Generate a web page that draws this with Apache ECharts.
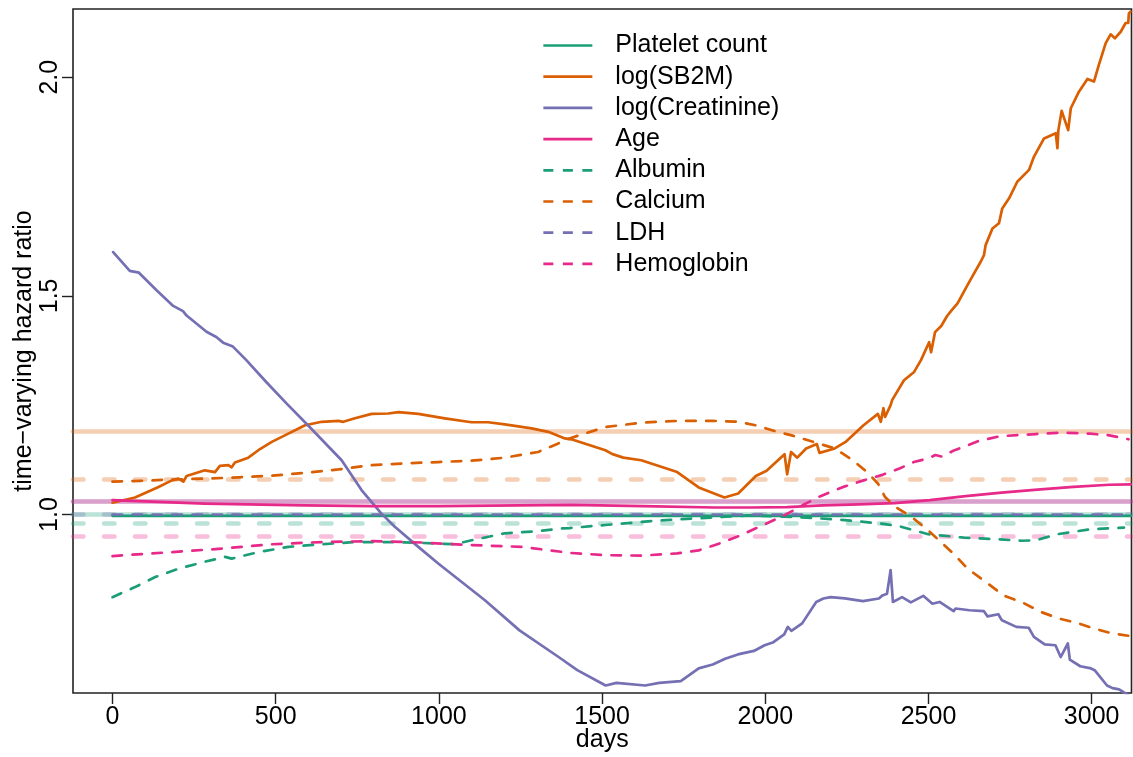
<!DOCTYPE html>
<html>
<head>
<meta charset="utf-8">
<script src="https://cdn.jsdelivr.net/npm/echarts@6/dist/echarts.min.js"></script>
<style>
  html, body { margin: 0; padding: 0; background: #fff; }
  #chart { width: 1133px; height: 757px; }
</style>
</head>
<body>
<div id="chart"></div>
<script>
// Time-varying hazard ratios, [day, hazard ratio]
const plateletCount = [[0, 0.997], [800, 0.997], [1600, 0.997], [2400, 0.997], [3120, 0.997]];

const logSB2M = [
  [0, 1.027], [69, 1.039], [100, 1.049], [141, 1.063], [182, 1.078], [202, 1.082], [217, 1.075],
  [227, 1.088], [283, 1.101], [314, 1.097], [329, 1.111], [355, 1.113], [365, 1.108], [375, 1.119],
  [416, 1.130], [447, 1.147], [488, 1.166], [528, 1.181], [590, 1.204], [641, 1.212], [692, 1.214],
  [707, 1.212], [743, 1.220], [794, 1.230], [845, 1.231], [876, 1.234], [937, 1.230], [1018, 1.220],
  [1100, 1.211], [1151, 1.211], [1202, 1.206], [1284, 1.197], [1335, 1.189], [1386, 1.174],
  [1406, 1.172], [1510, 1.147], [1532, 1.138], [1565, 1.130], [1620, 1.124], [1730, 1.097],
  [1796, 1.062], [1875, 1.039], [1917, 1.048], [1971, 1.088], [2004, 1.100], [2059, 1.138],
  [2067, 1.092], [2079, 1.143], [2098, 1.130], [2125, 1.151], [2158, 1.161], [2166, 1.141],
  [2213, 1.151], [2246, 1.166], [2301, 1.204], [2345, 1.230], [2354, 1.212], [2362, 1.243],
  [2367, 1.223], [2384, 1.250], [2389, 1.262], [2425, 1.307], [2456, 1.326], [2477, 1.353],
  [2502, 1.394], [2508, 1.371], [2520, 1.417], [2539, 1.431], [2557, 1.454], [2572, 1.468],
  [2589, 1.483], [2614, 1.517], [2634, 1.544], [2660, 1.578], [2670, 1.593], [2675, 1.616],
  [2696, 1.654], [2716, 1.666], [2726, 1.700], [2747, 1.723], [2772, 1.761], [2808, 1.788],
  [2823, 1.818], [2854, 1.860], [2890, 1.872], [2895, 1.838], [2898, 1.879], [2908, 1.923],
  [2928, 1.879], [2936, 1.929], [2961, 1.967], [2987, 1.996], [3007, 1.990], [3022, 2.028],
  [3043, 2.078], [3058, 2.098], [3071, 2.089], [3089, 2.104], [3104, 2.124], [3112, 2.124],
  [3114, 2.146], [3119, 2.150]
];

const logCreatinine = [
  [2, 1.600], [53, 1.557], [81, 1.553], [135, 1.513], [186, 1.477], [216, 1.465], [227, 1.455],
  [288, 1.418], [318, 1.406], [339, 1.393], [369, 1.384], [410, 1.353], [471, 1.303], [533, 1.254],
  [604, 1.200], [702, 1.124], [763, 1.056], [824, 1.002], [865, 0.972], [937, 0.926], [998, 0.888],
  [1141, 0.804], [1247, 0.735], [1369, 0.673], [1424, 0.644], [1511, 0.609], [1544, 0.615],
  [1632, 0.609], [1675, 0.615], [1741, 0.619], [1796, 0.648], [1839, 0.657], [1877, 0.670],
  [1916, 0.680], [1965, 0.688], [1998, 0.701], [2025, 0.708], [2058, 0.726], [2069, 0.743],
  [2080, 0.734], [2113, 0.751], [2156, 0.800], [2178, 0.808], [2200, 0.811], [2244, 0.808],
  [2299, 0.802], [2348, 0.808], [2359, 0.815], [2373, 0.819], [2384, 0.873], [2391, 0.800],
  [2419, 0.811], [2446, 0.799], [2484, 0.814], [2512, 0.796], [2534, 0.800], [2577, 0.779],
  [2583, 0.785], [2626, 0.781], [2670, 0.779], [2681, 0.767], [2714, 0.772], [2725, 0.758],
  [2769, 0.743], [2807, 0.741], [2823, 0.720], [2856, 0.703], [2889, 0.701], [2905, 0.674],
  [2927, 0.705], [2933, 0.668], [2965, 0.653], [2998, 0.648], [3009, 0.644], [3047, 0.609],
  [3064, 0.603], [3084, 0.600], [3110, 0.588]
];

const age = [
  [0, 1.033], [283, 1.025], [590, 1.021], [794, 1.019], [998, 1.019], [1406, 1.022], [1626, 1.019],
  [1846, 1.016], [1956, 1.016], [2066, 1.017], [2176, 1.021], [2286, 1.023], [2396, 1.026],
  [2504, 1.033], [2614, 1.042], [2724, 1.050], [2834, 1.057], [2944, 1.063], [3054, 1.068],
  [3120, 1.069]
];

const albumin = [
  [0, 0.811], [69, 0.834], [131, 0.857], [202, 0.876], [283, 0.892], [345, 0.903], [365, 0.899],
  [447, 0.914], [539, 0.926], [641, 0.932], [743, 0.937], [845, 0.937], [947, 0.935], [1049, 0.932],
  [1100, 0.941], [1202, 0.957], [1304, 0.962], [1375, 0.968], [1400, 0.969], [1510, 0.976],
  [1620, 0.983], [1730, 0.989], [1839, 0.993], [1949, 0.998], [2059, 0.995], [2169, 0.991],
  [2279, 0.985], [2367, 0.978], [2411, 0.973], [2499, 0.955], [2609, 0.947], [2719, 0.943],
  [2785, 0.940], [2829, 0.941], [2895, 0.955], [2994, 0.966], [3099, 0.970]
];

const calcium = [
  [0, 1.075], [85, 1.077], [182, 1.080], [283, 1.082], [386, 1.085], [488, 1.089], [590, 1.095],
  [692, 1.103], [794, 1.113], [896, 1.117], [998, 1.120], [1100, 1.123], [1202, 1.130],
  [1304, 1.143], [1355, 1.159], [1400, 1.174], [1510, 1.200], [1620, 1.210], [1730, 1.214],
  [1839, 1.214], [1917, 1.212], [1971, 1.204], [2037, 1.189], [2081, 1.181], [2147, 1.166],
  [2213, 1.151], [2268, 1.124], [2312, 1.097], [2345, 1.071], [2367, 1.040], [2400, 1.017],
  [2454, 0.991], [2499, 0.964], [2532, 0.941], [2576, 0.911], [2620, 0.876], [2675, 0.846],
  [2730, 0.815], [2790, 0.798], [2845, 0.777], [2900, 0.762], [2955, 0.752], [3009, 0.739],
  [3058, 0.729], [3118, 0.722]
];

const ldh = [[0, 1.000], [800, 1.000], [1600, 1.000], [2400, 1.000], [3120, 1.000]];

const hemoglobin = [
  [0, 0.905], [182, 0.914], [335, 0.922], [488, 0.932], [641, 0.937], [794, 0.939], [947, 0.936],
  [1100, 0.930], [1253, 0.926], [1406, 0.912], [1510, 0.907], [1620, 0.906], [1730, 0.911],
  [1796, 0.918], [1861, 0.934], [1927, 0.953], [1993, 0.976], [2058, 0.998], [2114, 1.021],
  [2169, 1.042], [2235, 1.062], [2301, 1.078], [2356, 1.090], [2411, 1.105], [2455, 1.120],
  [2499, 1.128], [2521, 1.136], [2543, 1.132], [2576, 1.146], [2609, 1.155], [2653, 1.168],
  [2719, 1.179], [2829, 1.184], [2906, 1.187], [2994, 1.185], [3054, 1.181], [3113, 1.172]
];

// Time-constant hazard ratios (drawn as faint reference lines)
const constPlatelet = 0.998;
const constSB2M = 1.190;
const constCreatinine = 1.026;
const constAge = 1.026;
const constAlbumin = 0.978;
const constCalcium = 1.085;
const constLDH = 1.000;
const constHemoglobin = 0.953;

// Axis ticks
const xTicks = [0, 500, 1000, 1500, 2000, 2500, 3000];
const yTicks = [1.0, 1.5, 2.0];

const GREEN = '#1b9e77', ORANGE = '#d95f02', PURPLE = '#7570b3', PINK = '#e7298a';
const FONT = '"Liberation Sans", Arial, Helvetica, sans-serif';
const MAIN_W = 2.7;
const MAIN_DASH = [9.5, 10.5];
const CONST_W = 4.5;
const CONST_DASH = [10.5, 20.5];

function fade(hex, a) {
  const n = parseInt(hex.slice(1), 16);
  return `rgba(${(n >> 16) & 255},${(n >> 8) & 255},${n & 255},${a})`;
}

function curve(name, data, color, dashed) {
  return {
    name, type: 'line', data, showSymbol: false, symbol: 'none', z: 5,
    clip: true, animation: false,
    lineStyle: { color, width: MAIN_W, type: dashed ? MAIN_DASH : 'solid', cap: 'round', join: 'round' },
    itemStyle: { color }
  };
}

function refLine(id, value, color, dashed) {
  return {
    id, type: 'line', data: [], z: 2, animation: false,
    markLine: {
      silent: true, symbol: 'none', animation: false,
      label: { show: false },
      lineStyle: { color: fade(color, 0.3), width: CONST_W, type: dashed ? CONST_DASH : 'solid', cap: 'round' },
      emphasis: { disabled: true },
      data: [{ yAxis: value }]
    }
  };
}

const legendItems = [
  ['Platelet count', GREEN, false],
  ['log(SB2M)', ORANGE, false],
  ['log(Creatinine)', PURPLE, false],
  ['Age', PINK, false],
  ['Albumin', GREEN, true],
  ['Calcium', ORANGE, true],
  ['LDH', PURPLE, true],
  ['Hemoglobin', PINK, true]
];

const chart = echarts.init(document.getElementById('chart'), null, { renderer: 'canvas' });

chart.setOption({
  animation: false,
  backgroundColor: '#ffffff',
  textStyle: { fontFamily: FONT },
  grid: {
    left: 73, right: 1.5, top: 9, bottom: 64,
    outerBoundsMode: 'none', containLabel: false,
    show: true, borderColor: '#222', borderWidth: 1.6, backgroundColor: 'transparent'
  },
  legend: {
    orient: 'vertical', left: 542, top: 33, padding: 0,
    itemWidth: 49, itemHeight: 14, itemGap: 6.2,
    selectedMode: false,
    textStyle: { fontFamily: FONT, fontSize: 25, color: '#000', padding: [0, 0, 0, 18], lineHeight: 25 },
    data: legendItems.map(([name, color, dashed]) => ({
      name,
      lineStyle: { color, width: MAIN_W, type: dashed ? [10, 9.5] : 'solid', cap: 'butt' },
      itemStyle: { color: 'rgba(0,0,0,0)', opacity: 0, borderWidth: 0 }
    }))
  },
  xAxis: {
    type: 'value', min: -121, max: 3122,
    name: 'days', nameLocation: 'middle', nameGap: 35, nameMoveOverlap: false,
    nameTextStyle: { fontFamily: FONT, fontSize: 25, color: '#000' },
    axisLine: { show: false, onZero: false },
    splitLine: { show: false },
    axisTick: { show: true, length: 11, inside: false, customValues: xTicks, lineStyle: { color: '#222', width: 1.4 } },
    axisLabel: {
      customValues: xTicks, fontFamily: FONT, fontSize: 25, color: '#000', margin: 12,
      formatter: v => String(v)
    }
  },
  yAxis: {
    type: 'value', min: 0.5918, max: 2.156,
    name: 'time\u2212varying hazard ratio', nameLocation: 'middle', nameGap: 36, nameRotate: 90,
    nameMoveOverlap: false,
    nameTextStyle: { fontFamily: FONT, fontSize: 25, color: '#000' },
    axisLine: { show: false, onZero: false },
    splitLine: { show: false },
    axisTick: { show: true, length: 11, inside: false, customValues: yTicks, lineStyle: { color: '#222', width: 1.4 } },
    axisLabel: {
      customValues: yTicks, rotate: 90, fontFamily: FONT, fontSize: 25, color: '#000', margin: 10,
      formatter: v => v.toFixed(1)
    }
  },
  series: [
    refLine('c-platelet', constPlatelet, GREEN, false),
    refLine('c-sb2m', constSB2M, ORANGE, false),
    refLine('c-creatinine', constCreatinine, PURPLE, false),
    refLine('c-age', constAge, PINK, false),
    refLine('c-albumin', constAlbumin, GREEN, true),
    refLine('c-calcium', constCalcium, ORANGE, true),
    refLine('c-ldh', constLDH, PURPLE, true),
    refLine('c-hemoglobin', constHemoglobin, PINK, true),
    curve('Platelet count', plateletCount, GREEN, false),
    curve('log(SB2M)', logSB2M, ORANGE, false),
    curve('log(Creatinine)', logCreatinine, PURPLE, false),
    curve('Age', age, PINK, false),
    curve('Albumin', albumin, GREEN, true),
    curve('Calcium', calcium, ORANGE, true),
    curve('LDH', ldh, PURPLE, true),
    curve('Hemoglobin', hemoglobin, PINK, true)
  ]
});
</script>
</body>
</html>
